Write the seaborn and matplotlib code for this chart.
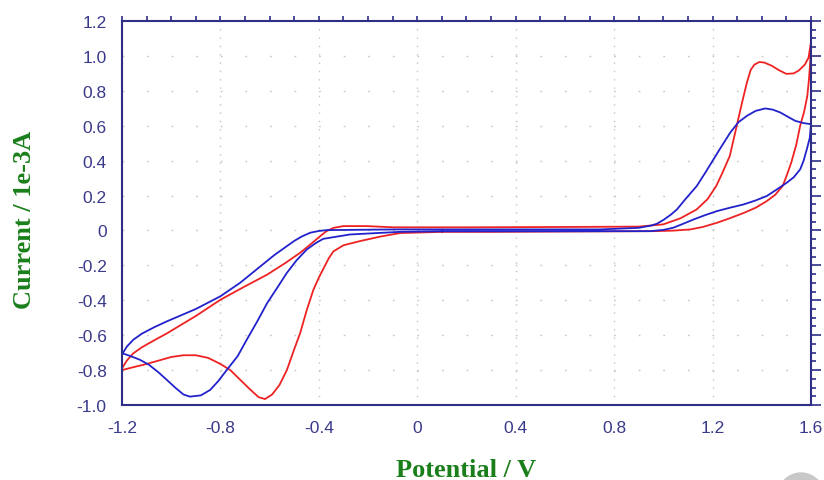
import numpy as np
import pandas as pd
import matplotlib
matplotlib.use("Agg")
import matplotlib.pyplot as plt
import seaborn as sns
from matplotlib.ticker import MultipleLocator
from matplotlib.patches import Circle
from matplotlib.transforms import IdentityTransform

# red voltammogram, in scan order
red_x = [0.10, -0.07, -0.15, -0.233, -0.30, -0.341, -0.36, -0.38, -0.40, -0.422,
         -0.45, -0.476, -0.50, -0.53, -0.56, -0.59, -0.619, -0.645, -0.68, -0.72,
         -0.76, -0.80, -0.85, -0.90, -0.95, -1.0, -1.05, -1.1, -1.15, -1.2,
         -1.2, -1.18, -1.155, -1.12, -1.07, -1.018, -0.90, -0.80, -0.70, -0.61,
         -0.54, -0.476, -0.43, -0.395, -0.37, -0.34, -0.30, -0.205, -0.10, 0.2,
         0.6, 0.9, 1.0, 1.07, 1.135, 1.18, 1.215, 1.24, 1.27, 1.295,
         1.32, 1.34, 1.355, 1.37, 1.39, 1.41, 1.44, 1.47, 1.50, 1.53,
         1.55, 1.575, 1.59, 1.60,
         1.597, 1.592, 1.585, 1.572, 1.556, 1.54, 1.52, 1.50, 1.485, 1.455,
         1.42, 1.375, 1.326, 1.27, 1.218, 1.16, 1.11, 1.04, 0.96, 0.6,
         0.3, 0.10]
red_y = [-0.008, -0.015, -0.035, -0.061, -0.085, -0.12, -0.16, -0.215, -0.27, -0.339,
         -0.46, -0.588, -0.68, -0.80, -0.885, -0.94, -0.966, -0.955, -0.91, -0.855,
         -0.80, -0.765, -0.73, -0.715, -0.715, -0.725, -0.745, -0.765, -0.782, -0.80,
         -0.79, -0.745, -0.705, -0.67, -0.63, -0.59, -0.49, -0.397, -0.32, -0.253,
         -0.19, -0.128, -0.075, -0.033, -0.005, 0.015, 0.025, 0.025, 0.018, 0.018,
         0.02, 0.022, 0.035, 0.07, 0.12, 0.18, 0.255, 0.33, 0.427, 0.58,
         0.734, 0.85, 0.92, 0.95, 0.965, 0.962, 0.944, 0.918, 0.897, 0.90,
         0.916, 0.95, 0.99, 1.08,
         0.97, 0.87, 0.77, 0.68, 0.60, 0.49, 0.39, 0.31, 0.255, 0.205,
         0.168, 0.13, 0.10, 0.07, 0.044, 0.02, 0.006, -0.001, -0.004, -0.006,
         -0.008, -0.008]

# blue voltammogram, in scan order
blue_x = [0.10, -0.07, -0.273, -0.382, -0.41, -0.449, -0.49, -0.53, -0.57, -0.61,
          -0.65, -0.693, -0.73, -0.774, -0.81, -0.842, -0.88, -0.924, -0.95, -0.98,
          -1.018, -1.05, -1.09, -1.127, -1.165, -1.2,
          -1.2, -1.18, -1.154, -1.12, -1.07, -1.018, -0.90, -0.80, -0.72, -0.637,
          -0.58, -0.53, -0.50, -0.47, -0.435, -0.40, -0.368, -0.07, 0.743, 0.90,
          0.95, 0.973, 1.0, 1.03, 1.055, 1.09, 1.136, 1.17, 1.204, 1.24,
          1.272, 1.305, 1.34, 1.375, 1.414, 1.445, 1.475, 1.505, 1.536, 1.57,
          1.60,
          1.595, 1.583, 1.57, 1.556, 1.53, 1.502, 1.46, 1.42, 1.375, 1.326,
          1.27, 1.218, 1.17, 1.123, 1.08, 1.041, 1.0, 0.946, 0.5, 0.10]
blue_y = [-0.005, -0.008, -0.023, -0.048, -0.07, -0.109, -0.17, -0.243, -0.33, -0.416,
          -0.52, -0.626, -0.72, -0.799, -0.865, -0.914, -0.945, -0.952, -0.94, -0.905,
          -0.856, -0.815, -0.77, -0.741, -0.72, -0.703,
          -0.71, -0.665, -0.626, -0.592, -0.555, -0.521, -0.45, -0.377, -0.30, -0.205,
          -0.14, -0.09, -0.06, -0.035, -0.013, -0.003, 0.002, 0.006, 0.006, 0.015,
          0.028, 0.038, 0.06, 0.09, 0.12, 0.18, 0.255, 0.33, 0.408, 0.49,
          0.561, 0.62, 0.657, 0.685, 0.699, 0.692, 0.676, 0.652, 0.628, 0.615,
          0.609,
          0.53, 0.465, 0.40, 0.35, 0.305, 0.274, 0.234, 0.197, 0.172, 0.149,
          0.13, 0.111, 0.088, 0.063, 0.038, 0.016, 0.003, -0.004, -0.005, -0.005]

x_ticks = [-1.2, -0.8, -0.4, 0, 0.4, 0.8, 1.2, 1.6]
x_labels = ["-1.2", "-0.8", "-0.4", "0", "0.4", "0.8", "1.2", "1.6"]
y_ticks = [-1.0, -0.8, -0.6, -0.4, -0.2, 0, 0.2, 0.4, 0.6, 0.8, 1.0, 1.2]
y_labels = ["-1.0", "-0.8", "-0.6", "-0.4", "-0.2", "0", "0.2", "0.4", "0.6", "0.8", "1.0", "1.2"]

df = pd.concat([
    pd.DataFrame({"Potential": red_x, "Current": red_y, "scan": "red"}),
    pd.DataFrame({"Potential": blue_x, "Current": blue_y, "scan": "blue"}),
], ignore_index=True)

sns.set_style("white")
plt.rcParams["font.family"] = ["Liberation Sans", "DejaVu Sans"]

navy = "#2E2E86"
green = "#1A7F1A"

fig = plt.figure(figsize=(8.24, 4.81), dpi=100)
ax = fig.add_axes([122 / 824, 1 - 406 / 481, 689 / 824, 384 / 481])

sns.lineplot(data=df, x="Potential", y="Current", hue="scan",
             palette={"red": "#EE2222", "blue": "#2222CC"},
             sort=False, estimator=None, legend=False, linewidth=1.3, ax=ax)

ax.set_xlim(-1.2, 1.6)
ax.set_ylim(-1.0, 1.2)
ax.set_xticks(x_ticks, x_labels)
ax.set_yticks(y_ticks, y_labels)
ax.xaxis.set_minor_locator(MultipleLocator(0.1))
ax.yaxis.set_minor_locator(MultipleLocator(0.05))

ax.tick_params(which="both", direction="out", top=True, right=True,
               color=navy, labelcolor="#3A3A8A", width=1.2)
ax.tick_params(which="major", length=7, labelsize=12.5, pad=4)
ax.tick_params(which="minor", length=3.5)
for t in ax.xaxis.get_major_ticks():
    t.tick2line.set_markersize(3.5)

for s in ax.spines.values():
    s.set_color(navy)
    s.set_linewidth(1.5)

# faint dotted grid
ax.grid(axis="x", which="major", color="#C4C4C4", linestyle=(0, (1, 5)), linewidth=1)
ax.grid(axis="y", which="major", color="#C4C4C4", linestyle=(0, (1.2, 16.5)), linewidth=1)
ax.set_axisbelow(True)

ax.set_xlabel("Potential / V", family="Liberation Serif", fontweight="bold",
              color=green, fontsize=19)
ax.set_ylabel("Current / 1e-3A", family="Liberation Serif", fontweight="bold",
              color=green, fontsize=19)
ax.xaxis.set_label_coords(0.5, -0.137)
ax.yaxis.set_label_coords(-0.125, 0.485)

fig.add_artist(Circle((801, -16), 23, transform=IdentityTransform(),
                      color="#C8C8C8", clip_on=False))

fig.savefig("out.png", dpi=100)
